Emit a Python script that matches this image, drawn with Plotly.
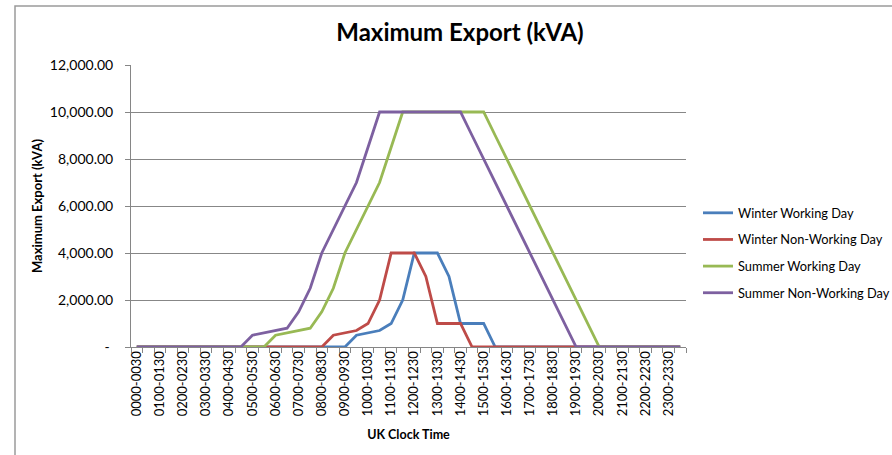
import plotly.graph_objects as go

# Half-hour slots
categories = [f"{h:02d}{m:02d}-{(h + (m + 30) // 60) % 24:02d}{(m + 30) % 60:02d}"
              for h in range(24) for m in (0, 30)]

winter_working = [0]*19 + [500, 600, 700, 1000, 2000, 4000, 4000, 4000, 3000,
                           1000, 1000, 1000] + [0]*17
winter_non_working = [0]*17 + [500, 600, 700, 1000, 2000, 4000, 4000, 4000, 3000,
                               1000, 1000, 1000] + [0]*19
summer_working = [0]*12 + [500, 600, 700, 800, 1500, 2500, 4000, 5000, 6000, 7000, 8500,
                           10000, 10000, 10000, 10000, 10000, 10000, 10000, 10000,
                           9000, 8000, 7000, 6000, 5000, 4000, 3000, 2000, 1000] + [0]*8
summer_non_working = [0]*10 + [500, 600, 700, 800, 1500, 2500, 4000, 5000, 6000, 7000, 8500,
                               10000, 10000, 10000, 10000, 10000, 10000, 10000, 10000,
                               9000, 8000, 7000, 6000, 5000, 4000, 3000, 2000, 1000] + [0]*10

series_names = ["Winter Working Day", "Winter Non-Working Day",
                "Summer Working Day", "Summer Non-Working Day"]
series_values = [winter_working, winter_non_working, summer_working, summer_non_working]
series_colors = ["#4A7EBB", "#BE4B48", "#98B954", "#7D60A0"]

y_tickvals = [0, 2000, 4000, 6000, 8000, 10000, 12000]
y_ticktext = ["-\u00a0", "2,000.00", "4,000.00", "6,000.00", "8,000.00",
              "10,000.00", "12,000.00"]

FONT = "Lato, 'Open Sans', sans-serif"

fig = go.Figure()
for name, vals, col in zip(series_names, series_values, series_colors):
    fig.add_trace(go.Scatter(x=categories, y=vals, mode="lines", name=name,
                             legendgroup=name,
                             line=dict(color=col, width=2.8)))

W, H = 892, 455
L, R, T, B = 131, 206, 65, 108
pw, ph = W - L - R, H - T - B

fig.update_layout(
    width=W, height=H,
    margin=dict(l=L, r=R, t=T, b=B, autoexpand=False),
    paper_bgcolor="white", plot_bgcolor="white",
    font=dict(family=FONT, size=12, color="#000000"),
    title=dict(text="<b>Maximum Export (kVA)</b>", x=460 / W, xref="container",
               xanchor="center", y=1 - 33 / H, yref="container", yanchor="middle",
               font=dict(family=FONT, size=24, color="#000000")),
    showlegend=True,
    legend=dict(x=(698 - L) / pw, xanchor="left", y=(H - B - 253) / ph, yanchor="middle",
                font=dict(family=FONT, size=12.8, color="#000000"),
                itemwidth=30, tracegroupgap=7, traceorder="grouped",
                bgcolor="rgba(0,0,0,0)"),
    xaxis=dict(
        type="category", range=[-0.5, len(categories) - 0.5], automargin=False,
        tickmode="array", tickvals=categories,
        ticktext=[c if i % 2 == 0 else "" for i, c in enumerate(categories)],
        tickangle=-90, tickson="boundaries", ticks="outside", ticklen=5,
        ticklabelstandoff=-2,
        tickcolor="#868686", tickfont=dict(family=FONT, size=13),
        showline=True, linecolor="#868686", linewidth=1,
        showgrid=False, zeroline=False,
        title=dict(text="<b>UK Clock Time</b>", font=dict(family=FONT, size=12.5),
                   standoff=14),
    ),
    yaxis=dict(
        range=[0, 12000], tickmode="array", tickvals=y_tickvals, ticktext=y_ticktext,
        automargin=False,
        ticks="outside", ticklen=5, tickcolor="#868686", ticklabelstandoff=9,
        tickfont=dict(family=FONT, size=14),
        showline=True, linecolor="#868686", linewidth=1,
        showgrid=True, gridcolor="#878787", gridwidth=1, zeroline=False,
        title=dict(text="<b>Maximum Export (kVA)</b>", font=dict(family=FONT, size=13),
                   standoff=4),
    ),
    shapes=[dict(type="rect", xref="paper", yref="paper",
                 x0=(15 - L) / pw, x1=(W + 50 - L) / pw,
                 y0=-(2 * H) / ph, y1=(H - B - 6) / ph,
                 line=dict(color="#9A9A9A", width=1.5), fillcolor="rgba(0,0,0,0)",
                 layer="below")],
)

fig.write_html("out.html", config={"displayModeBar": False},
               post_script="document.body.style.margin='0';")
